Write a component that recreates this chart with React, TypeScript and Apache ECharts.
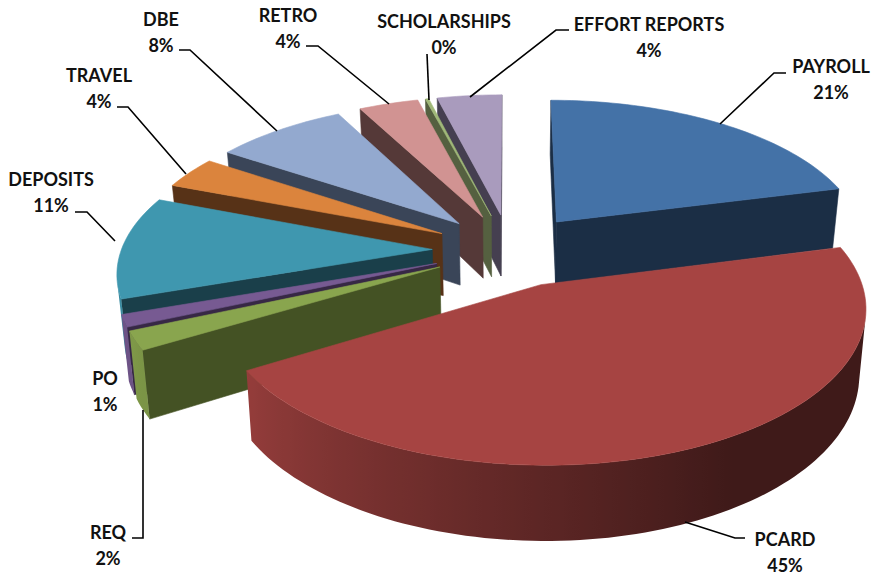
import React, { useEffect, useRef } from "react";
import * as echarts from "echarts";

const categories = ["PAYROLL", "PCARD", "REQ", "PO", "DEPOSITS", "TRAVEL", "DBE", "RETRO", "SCHOLARSHIPS", "EFFORT REPORTS"];
const values = [21, 45.4, 2, 1.3, 11.13, 3.5, 7.97, 3.6, 0.2, 3.9];

const topColors = ["#4472A7", "#A64442", "#89A54E", "#775A92", "#3F97AF", "#DB843D", "#93A9CF", "#D19392", "#A0B878", "#A99BBD"];
const sideColors = ["#1B2E45", "#5A2422", "#445224", "#372845", "#1A3F4A", "#573217", "#3A4558", "#553938", "#556040", "#453F50"];

const labelPositions = [[831, 66], [785, 539], [108, 532], [105, 378], [51, 179], [99, 75], [161, 19], [288, 15], [444, 21], [649, 24]];
const leaderLines: number[][][] = [
  [[786, 73], [774, 73], [720, 124]],
  [[745, 538], [735, 538], [685, 522]],
  [[132, 538], [143, 538], [143, 410]],
  [],
  [[75, 212], [87, 212], [115, 241]],
  [[117, 107], [128, 107], [186, 174]],
  [[179, 50], [190, 50], [277, 131]],
  [[306, 46], [318, 46], [389, 104]],
  [[427, 54], [429, 100]],
  [[569, 30], [556, 30], [470, 97]],
];

const CX = 510, CY = 250, SCALE_X = 311, SCALE_Y = 145.5, PERSPECTIVE = 0.1366, EXPLODE = 0.25, DEPTH = 63, FLOOR_SHRINK = 0.0003;
const total = values.reduce((a, b) => a + b, 0);
const startAngles: number[] = [];
values.reduce((acc, v, i) => { startAngles[i] = acc; return acc + (v / total) * 360; }, 0);
const rad = (d: number) => (d * Math.PI) / 180;

function project(u: number, v: number, z: number): number[] {
  const s = 1 / (1 - PERSPECTIVE * v);
  return [CX + SCALE_X * u * s * (1 - FLOOR_SHRINK * z), CY + SCALE_Y * v * s + z * s];
}
function area(p: number[][]): number {
  let a = 0;
  p.forEach((q, i) => { const r = p[(i + 1) % p.length]; a += q[0] * r[1] - r[0] * q[1]; });
  return a / 2;
}
function shade(hex: string, f: number): string {
  const n = parseInt(hex.slice(1), 16);
  const c = [(n >> 16) & 255, (n >> 8) & 255, n & 255].map((x) => Math.round(x * f));
  return `rgb(${c[0]},${c[1]},${c[2]})`;
}
const wallShade = (a: number) => Math.max(0.38, Math.min(0.92, 0.38 + ((a - 150) / 90) * 0.52));

const paintOrder = values
  .map((v, i) => ({ i, depth: -Math.cos(rad(startAngles[i] + (v / total) * 180)) }))
  .sort((a, b) => a.depth - b.depth)
  .map((d) => d.i);

function renderSlice(_params: any, api: any) {
  const i = api.value(0) as number;
  const a0 = startAngles[i];
  const a1 = a0 + (values[i] / total) * 360;
  const mid = (a0 + a1) / 2;
  const ou = EXPLODE * Math.sin(rad(mid));
  const ov = -EXPLODE * Math.cos(rad(mid));
  const steps = Math.max(2, Math.ceil((a1 - a0) / 1.5));
  const ring: { a: number; u: number; v: number }[] = [];
  for (let k = 0; k <= steps; k++) {
    const a = a0 + ((a1 - a0) * k) / steps;
    ring.push({ a, u: ou + Math.sin(rad(a)), v: ov - Math.cos(rad(a)) });
  }
  const face = (p: { u: number; v: number }, q: { u: number; v: number }) => [
    project(p.u, p.v, 0), project(q.u, q.v, 0), project(q.u, q.v, DEPTH), project(p.u, p.v, DEPTH),
  ];
  const poly = (points: number[][], color: any) => ({
    type: "polygon",
    shape: { points },
    style: { fill: color, stroke: typeof color === "string" ? color : "none", lineWidth: 0.6 },
  });
  const apex = { u: ou, v: ov };
  const children: any[] = [];
  const f1 = face(apex, ring[0]);
  if (area(f1) < 0) children.push(poly(f1, sideColors[i]));
  const f2 = face(ring[ring.length - 1], apex);
  if (area(f2) < 0) children.push(poly(f2, sideColors[i]));

  const run = ring.filter((_, k) =>
    (k < steps && area(face(ring[k], ring[k + 1])) < 0) || (k > 0 && area(face(ring[k - 1], ring[k])) < 0));
  if (run.length > 1) {
    const upper = run.map((r) => project(r.u, r.v, 0));
    const lower = run.map((r) => project(r.u, r.v, DEPTH));
    const pts = [...upper, ...lower.reverse()];
    const xs = pts.map((p) => p[0]);
    const minX = Math.min(...xs), maxX = Math.max(...xs);
    const stops = run
      .map((r, k) => ({ offset: (upper[k][0] - minX) / (maxX - minX || 1), color: shade(topColors[i], wallShade(r.a)) }))
      .sort((p, q) => p.offset - q.offset);
    children.push(poly(pts, new echarts.graphic.LinearGradient(0, 0, 1, 0, stops)));
  }
  const top = [project(ou, ov, 0), ...ring.map((r) => project(r.u, r.v, 0))];
  children.push(poly(top, topColors[i]));
  return { type: "group", children };
}

export default function App() {
  const ref = useRef<HTMLDivElement>(null);
  useEffect(() => {
    document.body.style.margin = "0";
    const chart = echarts.init(ref.current!, undefined, { renderer: "svg" });
    const textStyle = { fontFamily: "Lato", fontWeight: "bold", fontSize: 18, fill: "#111", align: "center", verticalAlign: "middle" };
    const graphics: any[] = [];
    categories.forEach((name, i) => {
      const [x, y] = labelPositions[i];
      graphics.push({ type: "text", x, y, z: 10, style: { ...textStyle, text: name } });
      graphics.push({ type: "text", x, y: y + 26, z: 10, style: { ...textStyle, text: `${Math.round(values[i])}%` } });
      if (leaderLines[i].length) {
        graphics.push({ type: "polyline", z: 9, shape: { points: leaderLines[i] }, style: { stroke: "#000", lineWidth: 1.6, fill: "none" } });
      }
    });
    chart.setOption({
      animation: false,
      backgroundColor: "#fff",
      graphic: graphics,
      series: [{
        type: "custom",
        coordinateSystem: "none",
        silent: true,
        renderItem: renderSlice,
        data: paintOrder.map((i) => [i]),
      }],
    });
    return () => chart.dispose();
  }, []);
  return <div ref={ref} style={{ width: 875, height: 576 }} />;
}
